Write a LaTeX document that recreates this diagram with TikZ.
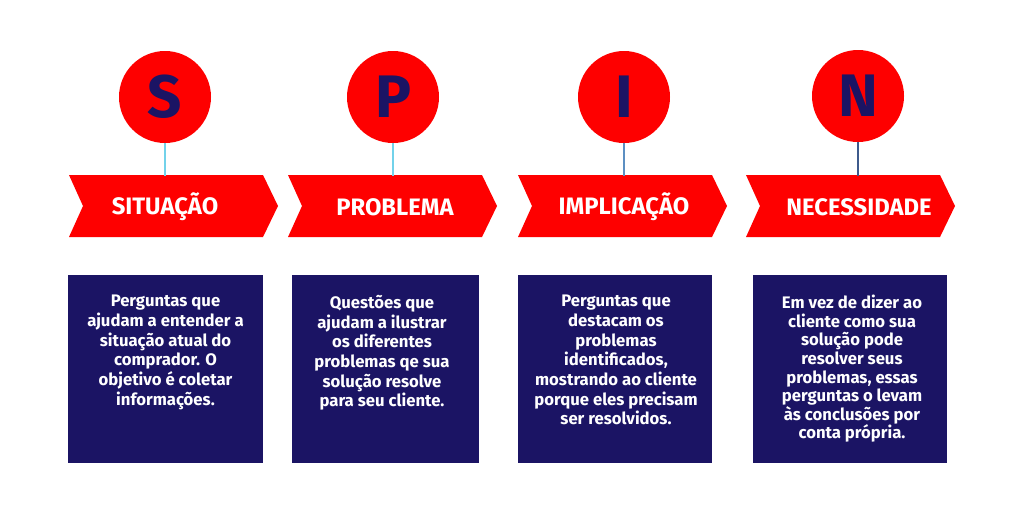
\documentclass[tikz,border=0pt]{standalone}
\usepackage{fontspec}
\setmainfont{Fira Sans}
\definecolor{spred}{HTML}{FE0000}
\definecolor{spnavy}{HTML}{1B1464}
\definecolor{stemA}{HTML}{72D2EA}
\definecolor{stemB}{HTML}{5C8FC2}
\definecolor{stemC}{HTML}{3E5A8C}
\begin{document}
\begin{tikzpicture}[x=1pt,y=-1pt,
  letter/.style={circle,fill=spred,minimum size=92pt,inner sep=0pt,text=spnavy,font=\fontsize{60}{60}\selectfont\bfseries},
  chevlabel/.style={text=white,font=\fontsize{23.8}{25}\selectfont\bfseries,inner sep=0pt},
  infobox/.style={fill=spnavy,draw=none},
  infotext/.style={text=white,align=center,anchor=north,inner sep=0pt,font=\fontsize{16.7}{19.7}\selectfont\bfseries},
  stem/.style={line width=2.4pt}]
\useasboundingbox (0,0) rectangle (1024,512);
\fill[white] (0,0) rectangle (1024,512);
% chevrons
\foreach \x/\n in {69/1,288/2,518/3,746/4}{
  \fill[spred] (\x,175) -- ++(194,0) -- ++(15,31) -- ++(-15,31) -- ++(-194,0) -- ++(14,-31) -- cycle;
}
% stems targets
\coordinate (t1) at (165,176);
\coordinate (t2) at (393,176);
\coordinate (t3) at (624,176);
\coordinate (t4) at (858,176);
% circles
\node[letter] (s) at (165,97) {S};
\node[letter] (p) at (393,97) {P};
\node[letter] (i) at (624,97) {I};
\node[letter] (n) at (858,96) {N};
\draw[stem,stemA] (s.south) -- (t1);
\draw[stem,stemA] (p.south) -- (t2);
\draw[stem,stemB] (i.south) -- (t3);
\draw[stem,stemC] (n.south) -- (t4);
% chevron labels
\node[chevlabel] (l1) at (165,207) {SITUAÇÃO};
\node[chevlabel] (l2) at (395,207) {PROBLEMA};
\node[chevlabel] (l3) at (624,207) {IMPLICAÇÃO};
\node[chevlabel] (l4) at (859,207) {NECESSIDADE};
% boxes
\fill[infobox] (68,275) rectangle (263,463);
\fill[infobox] (292,275) rectangle (479,463);
\fill[infobox] (518,275) rectangle (712,463);
\fill[infobox] (753,275) rectangle (947,463);
\node[infotext] (b1) at (165.5,295) {Perguntas que\\ajudam a entender a\\situação atual do\\comprador. O\\objetivo é coletar\\informações.};
\node[infotext] (b2) at (382,295) {Questões que\\ajudam a ilustrar\\os diferentes\\problemas qe sua\\solução resolve\\para seu cliente.};
\node[infotext] (b3) at (616,295) {Perguntas que\\destacam os\\problemas\\identificados,\\mostrando ao cliente\\porque eles precisam\\ser resolvidos.};
\node[infotext,font=\fontsize{16.7}{18.6}\selectfont\bfseries] (b4) at (852,295) {Em vez de dizer ao\\cliente como sua\\solução pode\\resolver seus\\problemas, essas\\perguntas o levam\\às conclusões por\\conta própria.};
\end{tikzpicture}
\end{document}
